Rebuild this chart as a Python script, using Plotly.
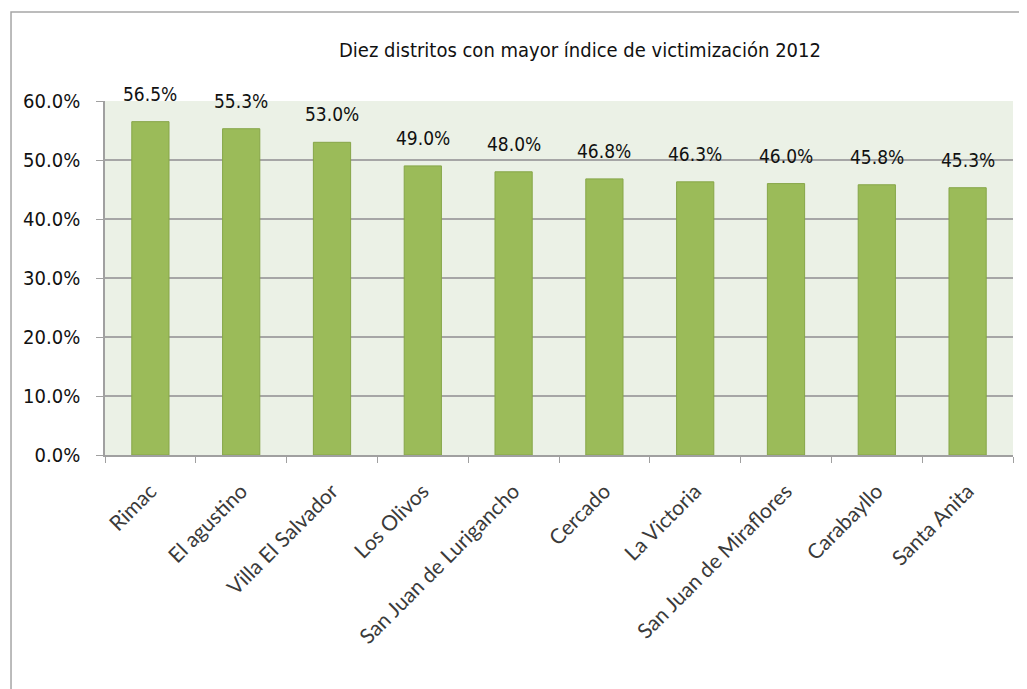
import plotly.graph_objects as go

categories = ["Rimac", "El agustino", "Villa El Salvador", "Los Olivos",
              "San Juan de Lurigancho", "Cercado", "La Victoria",
              "San Juan de Miraflores", "Carabayllo", "Santa Anita"]
values = [0.565, 0.553, 0.530, 0.490, 0.480, 0.468, 0.463, 0.460, 0.458, 0.453]
y_ticks = [0.0, 0.1, 0.2, 0.3, 0.4, 0.5, 0.6]
y_tick_labels = ["0.0%", "10.0%", "20.0%", "30.0%", "40.0%", "50.0%", "60.0%"]
title_text = "Diez distritos con mayor índice de victimización 2012"

cond = "DejaVu Sans Condensed"

fig = go.Figure(go.Bar(
    x=categories, y=values,
    marker=dict(color="#9BBB59", line=dict(color="#86A648", width=1)),
))

label_annotations = [
    dict(x=c, y=v, xref="x", yref="y", text=f"{v * 100:.1f}%",
         showarrow=False, yanchor="bottom", yshift=15,
         font=dict(family=cond, size=19, color="#111111"))
    for c, v in zip(categories, values)
]

fig.update_layout(
    width=1027, height=689,
    margin=dict(l=97, r=22, t=93, b=242, autoexpand=False),
    paper_bgcolor="white", plot_bgcolor="#EBF1E6",
    bargap=0.59,
    showlegend=False,
    annotations=[dict(text=title_text, xref="paper", yref="paper",
                      x=0.523, y=1.144, yanchor="middle", showarrow=False,
                      font=dict(family=cond, size=20, color="#111111"))]
                + label_annotations,
    shapes=[dict(type="rect", xref="paper", yref="paper",
                 x0=-0.1035, x1=1.05, y0=-0.75, y1=1.2514,
                 line=dict(color="#A6A6A6", width=1.5), layer="below")],
)
fig.update_xaxes(
    tickangle=-45, tickson="boundaries", ticks="outside", ticklen=6,
    tickcolor="#A0A0A0", showline=True, linecolor="#A0A0A0", linewidth=1.5,
    ticklabelstandoff=14,
    tickfont=dict(family="Lato", size=21, color="#3A3A3A"),
)
fig.update_yaxes(
    range=[0, 0.6], tickvals=y_ticks, ticktext=y_tick_labels,
    ticks="outside", ticklen=7, tickcolor="#A0A0A0",
    showline=True, linecolor="#A0A0A0", linewidth=1.5,
    showgrid=True, gridcolor="#A6A6A6", gridwidth=1.5,
    zeroline=False, ticklabelstandoff=12,
    tickfont=dict(family=cond, size=20, color="#111111"),
)

fig.write_html("out.html")
